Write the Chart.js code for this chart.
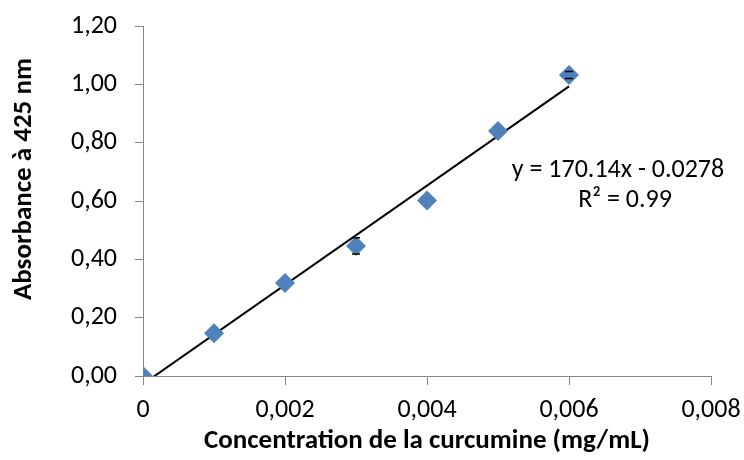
<!DOCTYPE html>
<html><head><meta charset="utf-8">
<script src="https://cdn.jsdelivr.net/npm/chart.js@4"></script>
<style>html,body{margin:0;padding:0;background:#fff}#w{width:744px;height:460px}</style>
</head><body><div id="w"><canvas id="c"></canvas></div>
<script>
const concentrations = [0, 0.001, 0.002, 0.003, 0.004, 0.005, 0.006];
const absorbances = [0, 0.147, 0.319, 0.446, 0.602, 0.840, 1.032];
const errorBars = [0, 0, 0, 0.028, 0, 0, 0.012];
const trendSlope = [170.14];
const trendIntercept = [-0.0278];
const trendRange = [0, 0.006];
const equationLines = ["y = 170.14x - 0.0278", "R\u00b2 = 0.99"];
const xTitle = "Concentration de la curcumine (mg/mL)";
const yTitle = "Absorbance à 425 nm";

const FONT = 'Carlito, "Open Sans", sans-serif';
const axisGray = '#868686';

const scatterData = concentrations.map((x, i) => ({x, y: absorbances[i]}));
const trendData = trendRange.map(x => ({x, y: trendSlope[0] * x + trendIntercept[0]}));

const extras = {
  id: 'extras',
  afterDatasetsDraw(chart) {
    const {ctx, scales: {x, y}} = chart;
    ctx.save();
    ctx.strokeStyle = '#000';
    ctx.lineWidth = 1.5;
    errorBars.forEach((e, i) => {
      if (!e) return;
      const px = x.getPixelForValue(concentrations[i]);
      const top = y.getPixelForValue(absorbances[i] + e);
      const bot = y.getPixelForValue(absorbances[i] - e);
      ctx.beginPath();
      ctx.moveTo(px - 4, top); ctx.lineTo(px + 4, top);
      ctx.moveTo(px - 4, bot); ctx.lineTo(px + 4, bot);
      ctx.stroke();
    });
    ctx.restore();
  },
  afterDraw(chart) {
    const {ctx, scales: {x, y}} = chart;
    ctx.save();
    ctx.fillStyle = '#000';
    ctx.font = '26px ' + FONT;
    ctx.textAlign = 'center';
    ctx.textBaseline = 'middle';
    const cx = x.getPixelForValue(0.00669);
    ctx.fillText(equationLines[0], cx, y.getPixelForValue(0.703));
    ctx.fillText(equationLines[1], cx + 7, y.getPixelForValue(0.603));
    // y axis title (Excel places it slightly above the axis centre)
    ctx.font = 'bold 27px ' + FONT;
    ctx.translate(24, y.getPixelForValue(0.675));
    ctx.rotate(-Math.PI / 2);
    ctx.fillText(yTitle, 0, 0);
    ctx.restore();
  }
};

new Chart(document.getElementById('c'), {
  type: 'scatter',
  data: {
    datasets: [
      {
        type: 'line',
        data: trendData,
        borderColor: '#000',
        borderWidth: 2,
        pointRadius: 0,
        fill: false,
        order: 2
      },
      {
        data: scatterData,
        backgroundColor: '#4F81BD',
        borderColor: '#4F81BD',
        pointStyle: 'rectRot',
        pointRadius: 10,
        pointHoverRadius: 10,
        borderWidth: 0,
        order: 1
      }
    ]
  },
  options: {
    responsive: true,
    maintainAspectRatio: false,
    animation: false,
    events: [],
    layout: {padding: {top: 26, right: 33, left: 0, bottom: 0}},
    plugins: {legend: {display: false}, tooltip: {enabled: false}},
    scales: {
      x: {
        type: 'linear',
        min: 0, max: 0.008,
        afterFit(s) { s.height = 84; s.paddingLeft = 0; s.paddingRight = 0; },
        border: {color: axisGray, width: 1},
        grid: {drawOnChartArea: false, drawTicks: true, tickLength: 9, color: axisGray},
        ticks: {
          stepSize: 0.002,
          padding: 10,
          color: '#000',
          maxRotation: 0,
          font: {family: FONT, size: 26},
          callback: v => v === 0 ? '0' : v.toFixed(3).replace('.', ',')
        },
        title: {display: true, text: xTitle, color: '#000', padding: {top: 0, bottom: 3},
          font: {family: FONT, size: 27, weight: 'bold'}}
      },
      y: {
        min: 0, max: 1.2,
        afterFit(s) { s.width = 143; s.paddingTop = 0; s.paddingBottom = 0; },
        border: {color: axisGray, width: 1},
        grid: {drawOnChartArea: false, drawTicks: true, tickLength: 8, color: axisGray},
        ticks: {
          stepSize: 0.2,
          padding: 18,
          color: '#000',
          font: {family: FONT, size: 26},
          callback: v => v.toFixed(2).replace('.', ',')
        }
      }
    }
  },
  plugins: [extras]
});
</script></body></html>
